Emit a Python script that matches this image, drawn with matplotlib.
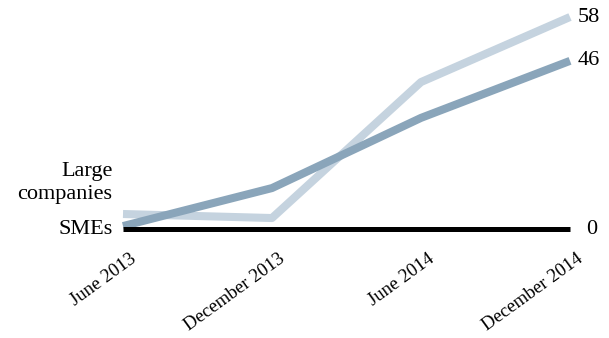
import matplotlib
matplotlib.use("Agg")
import matplotlib.pyplot as plt
import matplotlib.transforms as mtransforms

# data
periods = ["June 2013", "December 2013", "June 2014", "December 2014"]
large_companies = [4.1, 3.0, 40.2, 58]
smes = [0.8, 11.2, 30.4, 46]

light_col = "#c5d3df"
dark_col = "#8aa5ba"

plt.rcParams["font.family"] = ["Liberation Serif", "DejaVu Serif"]

fig = plt.figure(figsize=(6.09, 3.38), dpi=100)
W, H = 609, 338
ax = fig.add_axes([123 / W, (H - 229) / H, (570 - 123) / W, (229 - 17) / H])

xs = list(range(len(periods)))
ax.plot(xs, large_companies, color=light_col, lw=5.8, solid_capstyle="butt",
        solid_joinstyle="round", clip_on=False, zorder=2)
ax.plot(xs, smes, color=dark_col, lw=5.8, solid_capstyle="butt",
        solid_joinstyle="round", clip_on=False, zorder=3)
ax.axhline(0, color="black", lw=3.6, solid_capstyle="butt", clip_on=False, zorder=4)

ax.set_xlim(0, 3)
ax.set_ylim(0, 58)
for s in ax.spines.values():
    s.set_visible(False)
ax.set_yticks([])
ax.set_xticks([])

# rotated period labels, right end just past each tick
for x, lab in zip(xs, periods):
    off = mtransforms.offset_copy(ax.transData, fig=fig, x=11, y=-28, units="dots")
    ax.text(x, 0, lab, transform=off, rotation=36, rotation_mode="anchor",
            ha="right", va="center", fontsize=13.5, color="black")

# series labels on the left
ax.text(-0.07, 6.8, "Large\ncompanies", ha="right", va="bottom", fontsize=16,
        linespacing=1.3)
ax.text(-0.07, 0, "SMEs", ha="right", va="center", fontsize=16)

# end values on the right
ax.text(3.05, large_companies[-1], "58", ha="left", va="center", fontsize=16)
ax.text(3.05, smes[-1], "46", ha="left", va="center", fontsize=16)
ax.text(3.11, 0, "0", ha="left", va="center", fontsize=16)

fig.savefig("out.png", dpi=100)
